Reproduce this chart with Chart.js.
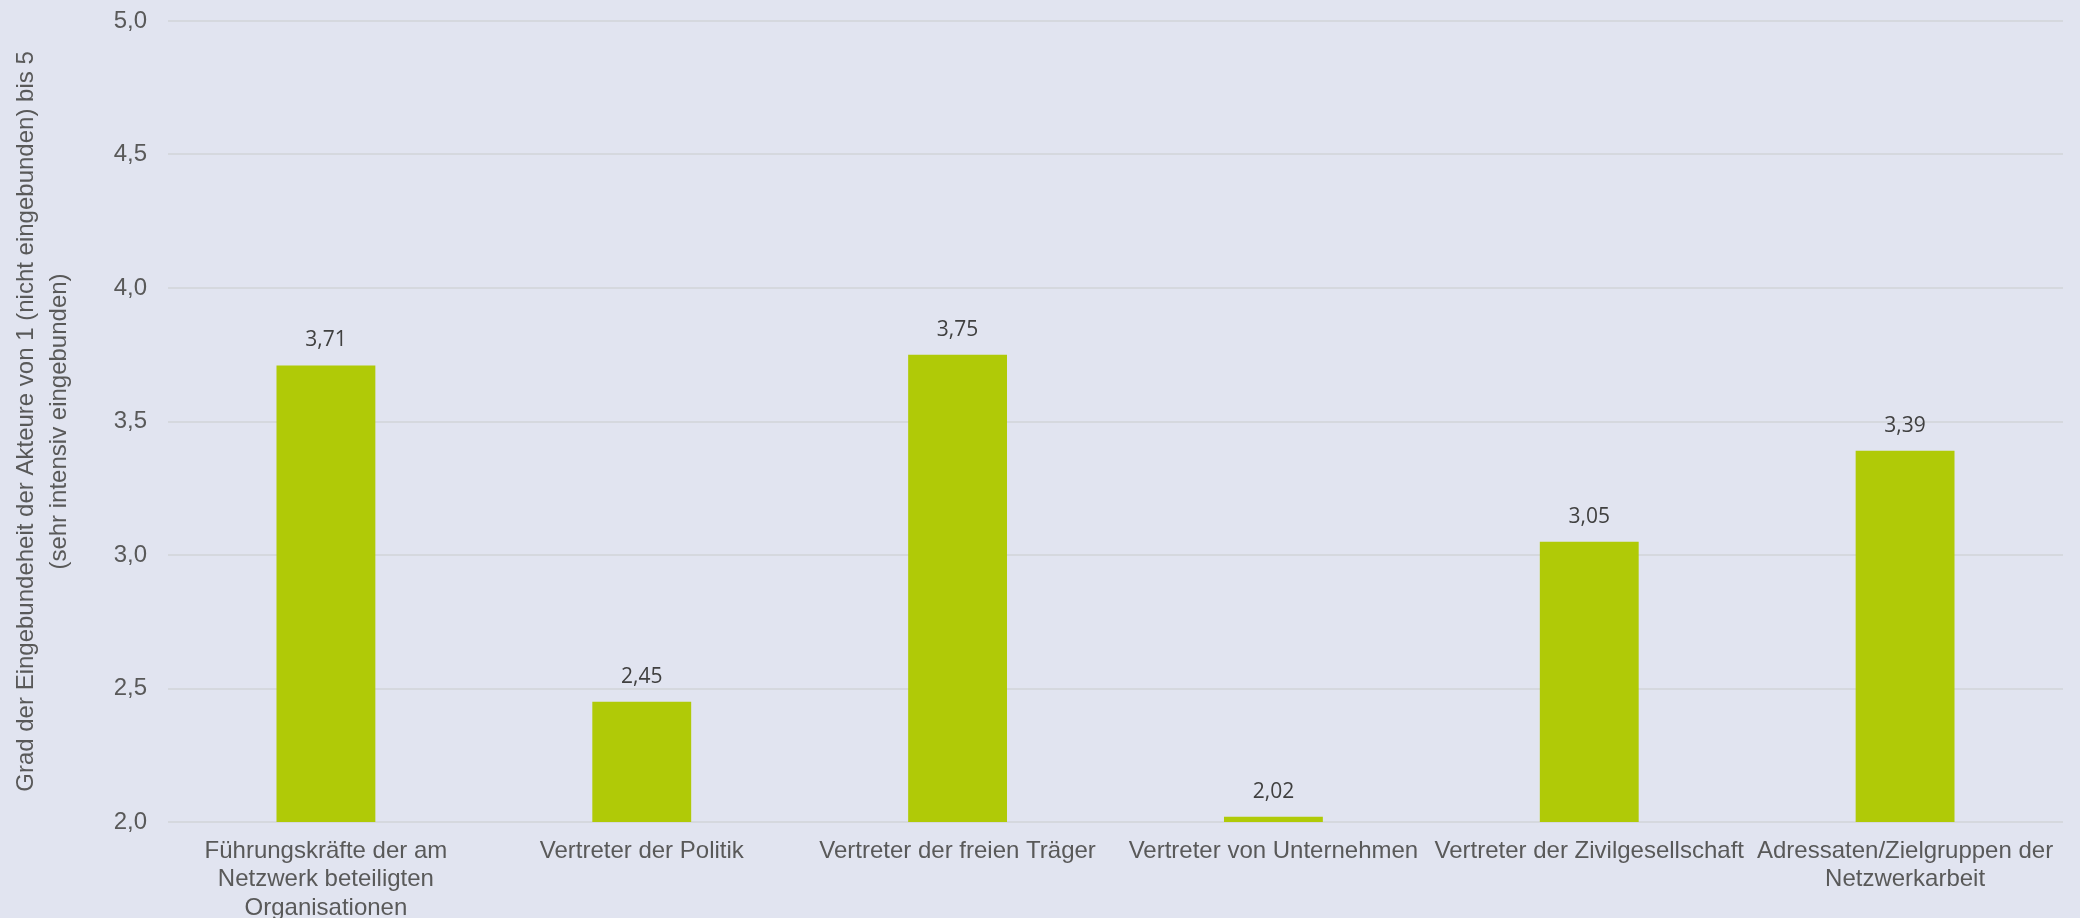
<!DOCTYPE html>
<html>
<head>
<meta charset="utf-8">
<script src="https://cdn.jsdelivr.net/npm/chart.js@4"></script>
<style>
  html, body { margin: 0; padding: 0; background: #E1E4F0; }
  #wrap { width: 2080px; height: 918px; position: relative; }
</style>
</head>
<body>
<div id="wrap"><canvas id="c" width="2080" height="918"></canvas></div>
<script>
const categories = [
  ["Führungskräfte der am", "Netzwerk beteiligten", "Organisationen"],
  "Vertreter der Politik",
  "Vertreter der freien Träger",
  "Vertreter von Unternehmen",
  "Vertreter der Zivilgesellschaft",
  ["Adressaten/Zielgruppen der", "Netzwerkarbeit"]
];
const values = [3.71, 2.45, 3.75, 2.02, 3.05, 3.39];
const yTitle = ["Grad der Eingebundeheit der Akteure von 1 (nicht eingebunden) bis 5", "(sehr intensiv eingebunden)"];
const yMin = 2, yMax = 5, yStep = 0.5;

const fmt = v => v.toFixed(2).replace('.', ',');

const valueLabels = {
  id: 'valueLabels',
  afterDatasetsDraw(chart) {
    const ctx = chart.ctx;
    const meta = chart.getDatasetMeta(0);
    ctx.save();
    ctx.font = '21px "Open Sans"';
    ctx.fillStyle = '#404040';
    ctx.textAlign = 'center';
    ctx.textBaseline = 'alphabetic';
    meta.data.forEach((bar, i) => {
      ctx.fillText(fmt(values[i]), bar.x, bar.y - 19);
    });
    ctx.restore();
  }
};

new Chart(document.getElementById('c'), {
  type: 'bar',
  data: {
    labels: categories,
    datasets: [{
      data: values,
      backgroundColor: '#B0CA07',
      borderWidth: 0,
      barPercentage: 1,
      categoryPercentage: 0.313
    }]
  },
  options: {
    responsive: false,
    animation: false,
    devicePixelRatio: 1,
    layout: { padding: { top: 21, right: 17, left: 0, bottom: 0 } },
    plugins: { legend: { display: false }, tooltip: { enabled: false } },
    scales: {
      x: {
        grid: { display: false },
        border: { display: false },
        ticks: {
          color: '#595959',
          font: { family: '"Liberation Sans", Arial, sans-serif', size: 24, lineHeight: 1.19 },
          padding: 7,
          maxRotation: 0,
          autoSkip: false
        },
        afterFit(scale) { scale.height = 96; scale.paddingLeft = 0; scale.paddingRight = 0; }
      },
      y: {
        min: yMin,
        max: yMax,
        border: { display: false },
        grid: { color: '#D5D8DE', lineWidth: 2, drawTicks: false },
        ticks: {
          stepSize: yStep,
          color: '#595959',
          font: { family: '"Liberation Sans", Arial, sans-serif', size: 24 },
          padding: 21,
          callback: v => Number(v).toFixed(1).replace('.', ',')
        },
        title: {
          display: true,
          text: yTitle,
          color: '#595959',
          font: { family: '"Liberation Sans", Arial, sans-serif', size: 24, lineHeight: 1.375 },
          padding: { top: 10, bottom: 0 }
        },
        afterFit(scale) { scale.width = 168; scale.paddingTop = 0; scale.paddingBottom = 0; }
      }
    }
  },
  plugins: [valueLabels]
});
</script>
</body>
</html>
